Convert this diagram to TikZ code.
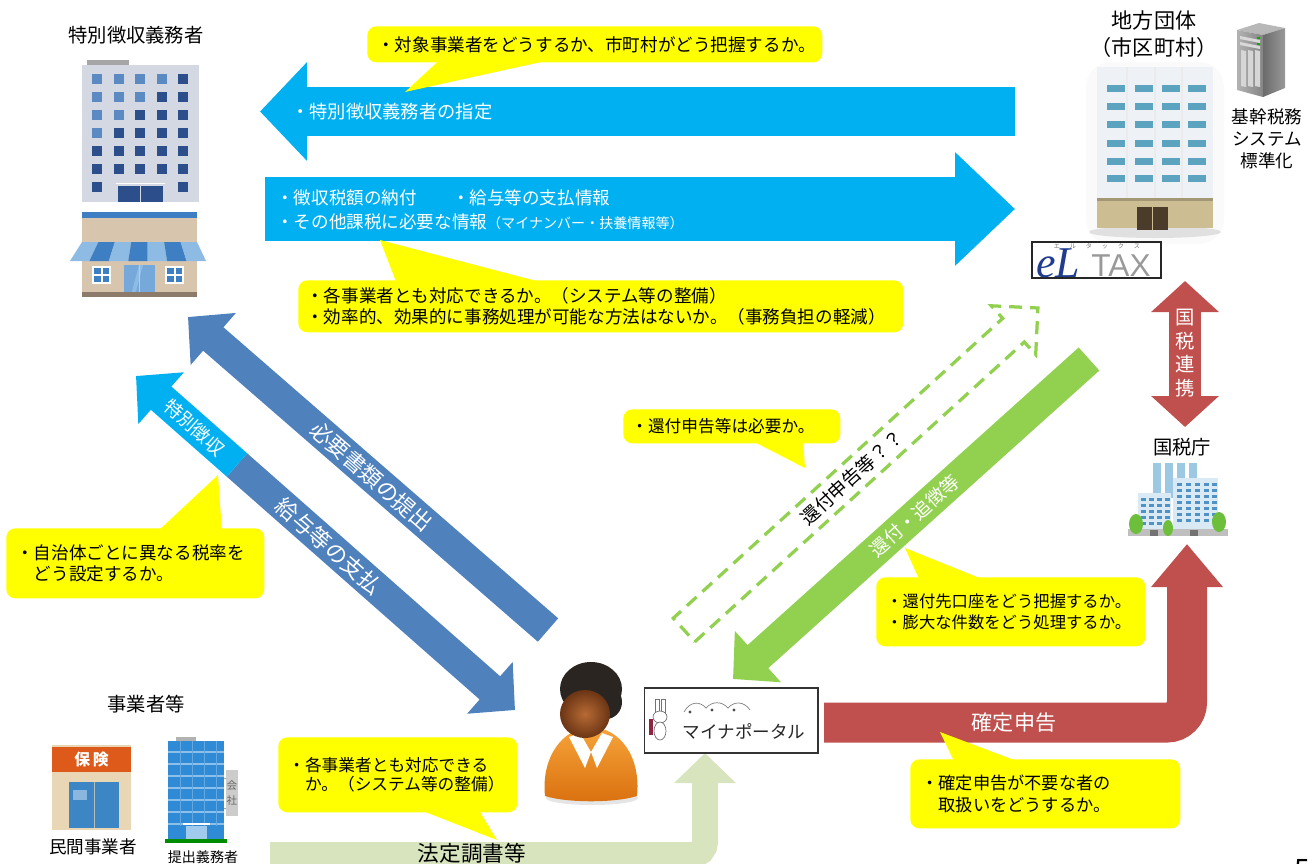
\documentclass[tikz,border=0pt]{standalone}
\usepackage{fontspec}
\setmainfont{Noto Sans CJK JP}
\newfontfamily\logoserif{Liberation Serif}
\newfontfamily\logosans{Liberation Sans}
\usetikzlibrary{arrows.meta,calc}

% arrow and box colours
\definecolor{cyanarrow}{HTML}{00B0F0}
\definecolor{steelarrow}{HTML}{4F81BD}
\definecolor{greenarrow}{HTML}{92D050}
\definecolor{redarrow}{HTML}{C0504D}
\definecolor{palegreen}{HTML}{D7E4BD}
\definecolor{calloutyellow}{HTML}{FFFF00}
% icon colours
\definecolor{officegrey}{HTML}{D3D8E3}
\definecolor{windark}{HTML}{2C4F8C}
\definecolor{winlight}{HTML}{5B89C2}
\definecolor{storeblue}{HTML}{3E7FC3}
\definecolor{storebeige}{HTML}{D8C5AE}
\definecolor{awnlight}{HTML}{8EBBE3}
\definecolor{storebrown}{HTML}{8C7A6B}
\definecolor{govwall}{HTML}{EEF2F7}
\definecolor{govwin}{HTML}{5BA3BF}
\definecolor{govbase}{HTML}{CDBD93}
\definecolor{govdoor}{HTML}{4B3B2B}
\definecolor{eltaxblue}{HTML}{1F3C8F}
\definecolor{hairdark}{HTML}{2B2522}
\definecolor{faceinner}{HTML}{B86A34}
\definecolor{faceouter}{HTML}{6B3515}
\definecolor{bodytop}{HTML}{F7A43A}
\definecolor{bodybot}{HTML}{D9700F}
\definecolor{ntatower}{HTML}{9CC8E4}
\definecolor{ntawall}{HTML}{D9EAF5}
\definecolor{ntawin}{HTML}{4F93C6}
\definecolor{treegreen}{HTML}{6DBE3A}
\definecolor{shopbeige}{HTML}{E9D6B4}
\definecolor{shoporange}{HTML}{DE5A1A}
\definecolor{shopwin}{HTML}{3D86C6}
\definecolor{compblue}{HTML}{2F8BD6}
\definecolor{rabbitred}{HTML}{8E2440}

\tikzset{
  callout/.style={fill=calloutyellow, rounded corners=0.18cm, anchor=north west,
    inner ysep=0pt, align=left},
  tail/.style={fill=calloutyellow},
  title/.style={inner sep=0pt, font=\fontsize{11}{13}\selectfont},
  bartext/.style={text=white, inner sep=0pt},
  diag/.style={line width=0.62cm, -{Triangle[width=1.34cm,length=0.67cm]}},
}

\begin{document}
\begin{tikzpicture}[x=0.02cm, y=-0.02cm]
  \useasboundingbox (0,0) rectangle (1314,863);
  \clip (0,0) rectangle (1314,863);

  % ---------- titles ----------
  \node[title] (wh-title) at (136,35) {特別徴収義務者};
  \node[title, font=\fontsize{12}{14}\selectfont] (gov-title) at (1154,20) {地方団体};
  \node[title, font=\fontsize{12}{14}\selectfont] (gov-sub) at (1154,47) {（市区町村）};
  \node[title, font=\fontsize{10}{12.5}\selectfont, align=center] (std-title) at (1267,139) {基幹税務\\システム\\標準化};
  \node[title] (nta-title) at (1182,447) {国税庁};
  \node[title] (biz-title) at (146,704) {事業者等};
  \node[title, font=\fontsize{10}{12}\selectfont] (priv-title) at (93,847) {民間事業者};
  \node[title, font=\fontsize{8}{10}\selectfont] (file-title) at (203,857) {提出義務者};

  % ---------- withholding agent: office ----------
  \fill[officegrey] (82,65) rectangle (199,202);
  \fill[black!35] (87,60) rectangle (129,65);
  \foreach \c in {0,...,4}{
    \foreach \r in {0,...,5}{
      \ifnum\numexpr\c+\r\relax<4 \def\wcol{winlight}\else\def\wcol{windark}\fi
      \fill[fill=\wcol] ({92+21.5*\c},{74+18*\r}) rectangle ++(10,10);
    }
  }
  \fill[windark] (92,182) rectangle ++(10,10);
  \fill[windark] (178,182) rectangle ++(10,10);
  \fill[windark] (118,186) rectangle (163,202);
  \draw[white, line width=0.8pt] (116,183.5) -- (165,183.5);
  \draw[officegrey, line width=0.5pt] (140.5,186) -- (140.5,202);

  % ---------- withholding agent: shop ----------
  \fill[storeblue] (82,212) rectangle (197,218);
  \fill[storebeige] (82,218) rectangle (197,295);
  \foreach \i in {0,...,6}{
    \ifodd\i \def\acol{storeblue}\else\def\acol{awnlight}\fi
    \fill[fill=\acol] ({82+16.43*\i},242) -- ({82+16.43*(\i+1)},242)
      -- ({70+19.43*(\i+1)},261) -- ({70+19.43*\i},261) -- cycle;
  }
  \foreach \wx in {92,165}{
    \fill[white] (\wx,266) rectangle ++(19,18);
    \fill[storeblue] (\wx+2,268) rectangle ++(6.5,6);
    \fill[storeblue] (\wx+10.5,268) rectangle ++(6.5,6);
    \fill[storeblue] (\wx+2,276) rectangle ++(6.5,6);
    \fill[storeblue] (\wx+10.5,276) rectangle ++(6.5,6);
  }
  \fill[awnlight!70!storeblue] (124,265) rectangle (155,295);
  \fill[awnlight] (131,295) -- (139,265) -- (143,265) -- (135,295) -- cycle;
  \draw[storebeige, line width=0.5pt] (139.5,265) -- (139.5,295);
  \fill[storebrown] (82,292) rectangle (197,297);

  % ---------- municipality building ----------
  \fill[black!2, rounded corners=0.5cm] (1086,62) rectangle (1224,244);
  \fill[govwall] (1097,67) rectangle (1213,198);
  \foreach \cx in {1127,1155,1182}
    \draw[black!8, line width=0.6pt] (\cx,67) -- (\cx,198);
  \foreach \cx in {1107,1135,1162,1188}{
    \foreach \ry in {85,103,121,140,158,175}
      \fill[govwin] (\cx,\ry) rectangle ++(18,7);
  }
  \fill[black!12] (1155,232) ellipse [x radius=66, y radius=6];
  \fill[govbase] (1097,198) rectangle (1213,228);
  \fill[govbase!80!black] (1097,198) rectangle (1213,201);
  \fill[govdoor] (1137,207) rectangle (1168,230);
  \draw[govbase, line width=0.5pt] (1152.5,207) -- (1152.5,230);

  % ---------- core tax server ----------
  \fill[black!28] (1237,30) -- (1259,23) -- (1285,28) -- (1263,35) -- cycle;
  \shade[left color=black!30, right color=black!48] (1237,30) -- (1263,35) -- (1263,97) -- (1237,90) -- cycle;
  \shade[left color=black!58, right color=black!40] (1263,35) -- (1285,28) -- (1285,88) -- (1263,97) -- cycle;
  \fill[black!15] (1240,36) -- (1260,40) -- (1260,43) -- (1240,39) -- cycle;
  \fill[black!15] (1240,42) -- (1260,46) -- (1260,49) -- (1240,45) -- cycle;
  \foreach \sx in {1241,1248,1255}
    \fill[black!16] (\sx,50) -- ++(5,1) -- ++(0,36) -- ++(-5,-1) -- cycle;
  \fill[green!70!black] (1257,37) rectangle ++(3,2);
  \fill[green!70!black] (1257,43) rectangle ++(3,2);

  % ---------- eLTAX ----------
  \node[draw=black!85, line width=0.7pt, minimum width=2.58cm, minimum height=0.72cm,
    inner sep=0pt] (eltax) at (1096.5,260) {};
  \node[text=eltaxblue, font=\logoserif\itshape\fontsize{25}{25}\selectfont, inner sep=0pt]
    (eltax-el) at (1058,263) {eL};
  \node[text=black!40, font=\logosans\fontsize{18}{18}\selectfont, inner sep=0pt]
    (eltax-tax) at (1121,266) {TAX};
  \node[text=black!55, font=\fontsize{3.5}{4}\selectfont, inner sep=0pt]
    (eltax-kana) at (1097,246.5) {エ\hspace{1.6em}ル\hspace{1.6em}タ\hspace{1.6em}ッ\hspace{1.6em}ク\hspace{1.6em}ス};

  % ---------- national tax agency ----------
  \foreach \tx in {1153,1165,1177,1189}
    \fill[ntatower] (\tx,463) rectangle ++(8,35);
  \fill[ntawall] (1138,493) rectangle (1171,530);
  \fill[ntawall] (1173,478) rectangle (1218,530);
  \foreach \wy in {498,504,...,522}{
    \foreach \wx in {1141,1149,1157,1165}
      \fill[ntawin] (\wx,\wy) rectangle ++(5,3);
  }
  \foreach \wy in {483,489,...,522}{
    \foreach \wx in {1177,1186,1195,1204,1212}
      \fill[ntawin] (\wx,\wy) rectangle ++(5,3);
  }
  \fill[black!25] (1128,529) rectangle (1228,536);
  \fill[black!55] (1150,530) rectangle ++(8,6);
  \fill[black!55] (1190,530) rectangle ++(8,6);
  \fill[treegreen] (1136,524) ellipse [x radius=7, y radius=10];
  \fill[treegreen] (1168,528) ellipse [x radius=5, y radius=8];
  \fill[treegreen] (1219,522) ellipse [x radius=7, y radius=10];

  % ---------- businesses ----------
  \fill[shopbeige] (52,745) rectangle (131,830);
  \fill[shoporange] (52,747) rectangle (131,772);
  \node[text=white, font=\bfseries\fontsize{9}{9}\selectfont, inner sep=0pt] (ins-sign) at (91.5,759.5) {保\,険};
  \fill[shopwin] (69,782) rectangle (119,828);
  \fill[shopwin!60!white] (73,790) rectangle ++(14,10);
  \draw[shopbeige!70!shopwin, line width=0.5pt] (94,782) -- (94,828);

  \fill[black!30] (176,737) rectangle (196,741);
  \fill[compblue] (168,741) rectangle (224,840);
  \foreach \ly in {752,764,...,828}
    \draw[compblue!55!white, line width=0.6pt] (168,\ly) -- (224,\ly);
  \foreach \lx in {180,192,...,216}
    \draw[compblue!75!white, line width=0.4pt] (\lx,741) -- (\lx,826);
  \fill[black!20] (226,770) rectangle (238,816);
  \draw[black!35, line width=0.5pt] (224,778) -- (226,778) (224,808) -- (226,808);
  \node[text=black!60, font=\fontsize{6}{9}\selectfont, align=center, inner sep=0pt] (comp-sign) at (232,793) {会\\社};
  \fill[compblue!45!white] (186,826) rectangle (207,840);
  \draw[white, line width=0.6pt] (183,824) -- (210,824);
  \fill[green!55!black] (165,839) rectangle (227,843);

  % ---------- designation / payment arrows ----------
  \coordinate (desig-from) at (1015,111.5);
  \coordinate (desig-to) at (260,111.5);
  \draw[cyanarrow, line width=0.98cm, -{Triangle[width=1.92cm,length=0.94cm]}] (desig-from) -- (desig-to);
  \node[bartext, anchor=west, font=\fontsize{10.4}{12}\selectfont] (desig-txt) at (291,112) {・特別徴収義務者の指定};

  \coordinate (pay-from) at (265,209);
  \coordinate (pay-to) at (1015,209);
  \draw[cyanarrow, line width=1.28cm, -{Triangle[width=2.2cm,length=1.2cm]}] (pay-from) -- (pay-to);
  \node[bartext, anchor=west, align=left, font=\fontsize{10}{13.6}\selectfont] (pay-txt) at (276,210)
    {・徴収税額の納付\hspace{2em}・給与等の支払情報\\・その他課税に必要な情報{\fontsize{8}{10}\selectfont（マイナンバー・扶養情報等）}};

  % ---------- diagonal arrows ----------
  \coordinate (docs-from) at (548,630);
  \coordinate (docs-to) at (188,317);
  \draw[diag, steelarrow] (docs-from) -- node[sloped, bartext, pos=0.49, font=\fontsize{12.5}{14}\selectfont] (docs-txt) {必要書類の提出} (docs-to);

  \coordinate (wage-mid) at (237,465);
  \coordinate (wage-to) at (515,710);
  \coordinate (wage-from) at (136,376);
  \draw[diag, steelarrow] (wage-mid) -- node[sloped, bartext, pos=0.33, font=\fontsize{12.5}{14}\selectfont] (wage-txt) {給与等の支払} (wage-to);
  \draw[diag, cyanarrow] (wage-mid) -- node[sloped, bartext, pos=0.42, font=\fontsize{10.5}{12}\selectfont] (spec-txt) {特別徴収} (wage-from);

  \coordinate (refund-from) at (1089,359);
  \coordinate (refund-to) at (733,679);
  \draw[diag, greenarrow] (refund-from) -- node[sloped, bartext, pos=0.49, font=\fontsize{10.6}{12}\selectfont] (refund-txt) {還付・追徴等} (refund-to);

  % hollow dashed arrow, drawn along its own axis
  \begin{scope}[shift={(684,630)}, rotate=42.3]
    \draw[greenarrow, line width=0.065cm, dash pattern=on 0.26cm off 0.16cm]
      (0,16) -- (445.5,16) -- (445.5,33) -- (478.5,0) -- (445.5,-33) -- (445.5,-16) -- (0,-16) -- cycle;
    \node[rotate=42.3, inner sep=0pt, font=\fontsize{10.6}{12}\selectfont] (ask-txt) at (227,0) {還付申告等？？};
  \end{scope}

  % ---------- national tax link ----------
  \coordinate (link-top) at (1185,281);
  \coordinate (link-bot) at (1185,427);
  \draw[redarrow, line width=0.64cm, {Triangle[width=1.32cm,length=0.62cm]}-{Triangle[width=1.32cm,length=0.62cm]}] (link-bot) -- (link-top);
  \node[bartext, align=center, font=\fontsize{11}{13.4}\selectfont] (link-txt) at (1185,353) {国\\税\\連\\携};

  % ---------- tax return ----------
  \coordinate (decl-from) at (824,722.5);
  \coordinate (decl-to) at (1187,544);
  \draw[redarrow, line width=0.8cm, rounded corners=0.4cm, -{Triangle[width=1.38cm,length=0.86cm]}]
    (decl-from) -- (decl-from -| decl-to) -- (decl-to);
  \node[bartext, font=\fontsize{12}{14}\selectfont] (decl-txt) at (1014,723) {確定申告};

  % ---------- statutory records ----------
  \coordinate (stat-from) at (270,855);
  \coordinate (stat-to) at (705,753);
  \draw[palegreen, line width=0.52cm, rounded corners=0.26cm, -{Triangle[width=1.2cm,length=0.6cm]}]
    (stat-from) -- (stat-from -| stat-to) -- (stat-to);
  \node[inner sep=0pt, font=\fontsize{12.3}{14}\selectfont] (stat-txt) at (472,853) {法定調書等};

  % ---------- taxpayer ----------
  \fill[black!10] (592,798) ellipse [x radius=46, y radius=7];
  \shade[top color=bodytop, bottom color=bodybot]
    (545,796) .. controls (541,758) and (562,728) .. (591,727)
    .. controls (621,728) and (641,758) .. (637,796)
    .. controls (615,803) and (567,803) .. (545,796) -- cycle;
  \fill[white] (569,737) -- (585,768) -- (591,752) -- (580,733) -- cycle;
  \fill[white] (613,737) -- (597,768) -- (591,752) -- (602,733) -- cycle;
  \fill[hairdark] (591,689) ellipse [x radius=31, y radius=27];
  \fill[hairdark] (606,702) ellipse [x radius=16, y radius=17];
  \shade[inner color=faceinner, outer color=faceouter] (585,714) ellipse [x radius=25, y radius=24];

  % ---------- mynaportal ----------
  \node[draw=black!80, line width=0.6pt, minimum width=3.48cm, minimum height=1.3cm, inner sep=0pt] (portal) at (731,720.5) {};
  \fill[rabbitred] (649,719) rectangle (653,735);
  \draw[black!55, fill=white, line width=0.4pt] (655,699) rectangle (659,712) (661,699) rectangle (665,712);
  \draw[black!55, fill=white, line width=0.4pt] (660,717) ellipse [x radius=7, y radius=6];
  \draw[black!55, fill=white, line width=0.4pt] (660,731) ellipse [x radius=6, y radius=9];
  \draw[black!50, line width=0.4pt] (684,712) .. controls (690,701) and (700,701) .. (706,708)
    .. controls (712,701) and (722,701) .. (728,708) .. controls (734,701) and (744,701) .. (750,710);
  \foreach \dx/\dy in {690/712,712/710,734/710}
    \fill[black!70] (\dx,\dy) circle [radius=1.6];
  \node[inner sep=0pt, text=black!85, font=\fontsize{10}{12}\selectfont] (portal-txt) at (744,731) {マイナポータル};

  % ---------- questions ----------
  \node[callout, text width=8.7cm, inner xsep=0.2cm, minimum height=0.72cm,
    font=\fontsize{10}{12}\selectfont] (q-target) at (367,26)
    {・対象事業者をどうするか、市町村がどう把握するか。};
  \fill[tail] (405,92) -- ($(q-target.south west)+(74,-4)$) -- ($(q-target.south west)+(189,-4)$) -- cycle;

  \node[callout, text width=11.78cm, inner xsep=0.16cm, minimum height=1.04cm,
    font=\fontsize{10}{11.6}\selectfont] (q-system) at (298,280)
    {・各事業者とも対応できるか。（システム等の整備）\\・効率的、効果的に事務処理が可能な方法はないか。（事務負担の軽減）};
  \fill[tail] (380,240) -- ($(q-system.north west)+(99,4)$) -- ($(q-system.north west)+(250,4)$) -- cycle;

  \node[callout, text width=4.76cm, inner xsep=0.2cm, minimum height=1.4cm,
    font=\fontsize{10}{11.6}\selectfont] (q-rate) at (6,528)
    {・自治体ごとに異なる税率を\\\hspace*{1em}どう設定するか。};
  \fill[tail] (218,475) -- ($(q-rate.north west)+(151,4)$) -- ($(q-rate.north west)+(216,4)$) -- cycle;

  \node[callout, text width=4.02cm, inner xsep=0.16cm, minimum height=0.68cm,
    font=\fontsize{9.5}{11}\selectfont] (q-refund) at (623,409)
    {・還付申告等は必要か。};
  \fill[tail] (805,468) -- ($(q-refund.south west)+(127,-4)$) -- ($(q-refund.south west)+(180,-4)$) -- cycle;

  \node[callout, text width=4.98cm, inner xsep=0.2cm, minimum height=1.38cm,
    font=\fontsize{9.3}{11.9}\selectfont] (q-account) at (876,577)
    {・還付先口座をどう把握するか。\\・膨大な件数をどう処理するか。};
  \fill[tail] (905,548) -- ($(q-account.north west)+(44,4)$) -- ($(q-account.north west)+(111,4)$) -- cycle;

  \node[callout, text width=4.96cm, inner xsep=0.22cm, minimum height=1.38cm,
    font=\fontsize{9.8}{12.5}\selectfont] (q-unneeded) at (910,759)
    {・確定申告が不要な者の\\\hspace*{1em}取扱いをどうするか。};
  \fill[tail] (940,732) -- ($(q-unneeded.north west)+(45,4)$) -- ($(q-unneeded.north west)+(112,4)$) -- cycle;

  \node[callout, text width=4.38cm, inner xsep=0.2cm, minimum height=1.5cm,
    font=\fontsize{9.5}{10.8}\selectfont] (q-firms) at (278,737)
    {・各事業者とも対応できる\\\hspace*{1em}か。（システム等の整備）};
  \fill[tail] (497,840) -- ($(q-firms.south west)+(139,-4)$) -- ($(q-firms.south west)+(200,-4)$) -- cycle;

  % page number at the lower edge
  \node[anchor=base, inner sep=0pt, font=\fontsize{16}{16}\selectfont] (page-no) at (1302,879) {5};
\end{tikzpicture}
\end{document}
